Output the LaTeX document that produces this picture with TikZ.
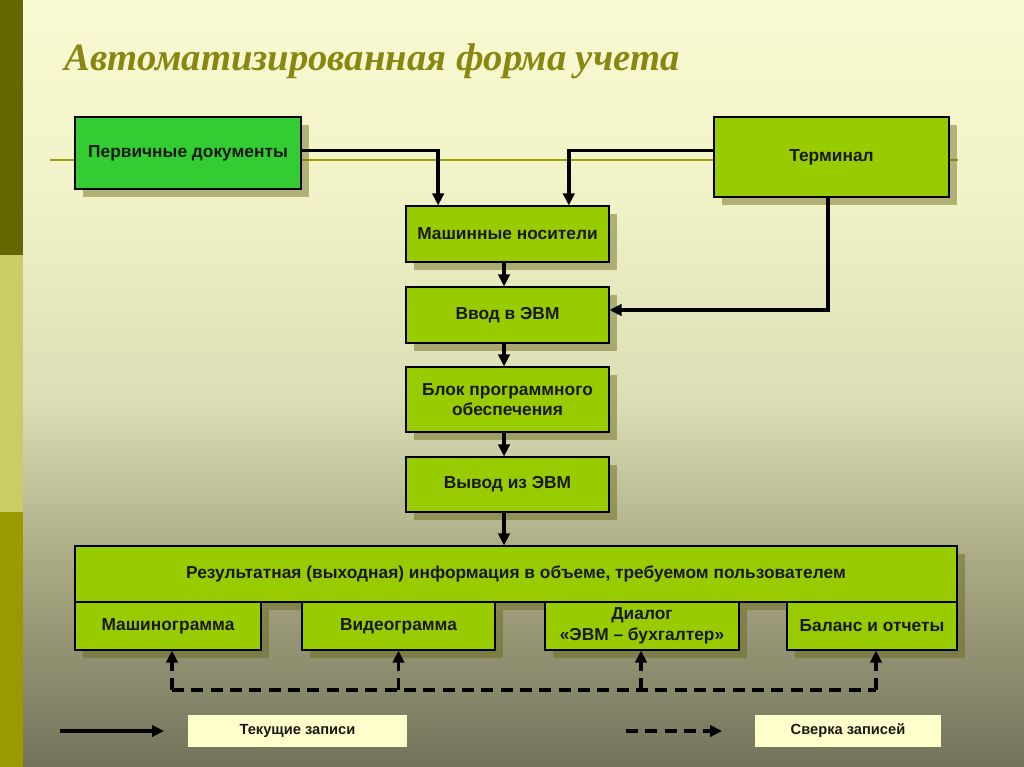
\documentclass[tikz,border=0pt]{standalone}
\usepackage{fontspec}
\setmainfont{Liberation Sans}
\newfontfamily\titlefont{Liberation Serif}
\usetikzlibrary{arrows.meta,shadows}

\definecolor{bartop}{RGB}{102,102,0}
\definecolor{barmid}{RGB}{204,204,102}
\definecolor{barbot}{RGB}{153,153,0}
\definecolor{bgtop}{RGB}{250,250,210}
\definecolor{bgup}{RGB}{242,242,200}
\definecolor{bgmid}{RGB}{222,222,182}
\definecolor{bglow}{RGB}{170,170,132}
\definecolor{bgbot}{RGB}{115,115,92}
\definecolor{titlecol}{RGB}{135,135,18}
\definecolor{rulecol}{RGB}{160,160,10}
\definecolor{docgreen}{RGB}{51,204,51}
\definecolor{boxgreen}{RGB}{153,204,0}
\definecolor{legfill}{RGB}{255,255,204}
\definecolor{shadowcol}{RGB}{100,100,20}
\definecolor{txt}{RGB}{25,25,20}

\pgfdeclareverticalshading{slidebg}{100bp}{color(0bp)=(bgbot); color(25bp)=(bgbot); color(38.5bp)=(bglow); color(49bp)=(bgmid); color(62.5bp)=(bgup); color(75bp)=(bgtop); color(100bp)=(bgtop)}

\begin{document}
\begin{tikzpicture}[x=0.75pt, y=-0.75pt,
    >={Triangle[length=9pt,width=8.5pt]},
    box/.style={draw=black, line width=0.8pt, fill=boxgreen, text=txt, align=center, inner sep=0pt,
        font=\bfseries\fontsize{13}{15.5}\selectfont,
        drop shadow={shadow xshift=6pt, shadow yshift=-6pt, fill=shadowcol, opacity=0.45}},
    legbox/.style={fill=legfill, text=txt, inner sep=0pt, minimum height=24pt,
        font=\bfseries\fontsize{11}{13}\selectfont},
    conn/.style={line width=2.6pt, ->},
    dashconn/.style={line width=2.6pt, dash pattern=on 9pt off 5.5pt}]
    \useasboundingbox (0,0) rectangle (1024,767);
    \shade[shading=slidebg] (0,0) rectangle (1024,767);
    \fill[bartop] (0,0) rectangle (23,255);
    \fill[barmid] (0,255) rectangle (23,512);
    \fill[barbot] (0,512) rectangle (23,767);
    \draw[rulecol, line width=1.5pt] (50,160) -- (958,160);

    \node[anchor=base west, text=titlecol, font=\titlefont\bfseries\itshape\fontsize{29}{34}\selectfont] (title) at (60,71) {Автоматизированная форма учета};

    \node[box, fill=docgreen, minimum width=169.5pt, minimum height=54pt] (prim) at (188,153) {Первичные документы};
    \node[box, minimum width=176.25pt, minimum height=60pt] (term) at (831.5,157) {Терминал};
    \node[box, minimum width=152.25pt, minimum height=42pt] (nos) at (507.5,234) {Машинные носители};
    \node[box, minimum width=152.25pt, minimum height=42pt] (vvod) at (507.5,315) {Ввод в ЭВМ};
    \node[box, minimum width=152.25pt, minimum height=48.75pt] (blok) at (507.5,399.5) {Блок программного\\обеспечения};
    \node[box, minimum width=152.25pt, minimum height=41.25pt] (vyvod) at (507.5,484.5) {Вывод из ЭВМ};
    \node[box, minimum width=661.5pt, minimum height=42pt] (res) at (516,574) {Результатная (выходная) информация в объеме, требуемом пользователем};
    \node[box, minimum width=139.5pt, minimum height=36pt] (mash) at (168,626) {Машинограмма};
    \node[box, minimum width=144.75pt, minimum height=36pt] (video) at (398.5,626) {Видеограмма};
    \node[box, minimum width=145.5pt, minimum height=36pt] (dialog) at (642,626) {Диалог\\«ЭВМ – бухгалтер»};
    \node[box, minimum width=127.5pt, minimum height=36pt] (balans) at (872,626) {Баланс и отчеты};

    \draw[conn] ([yshift=2pt]prim.east) -| ([xshift=-52pt]nos.north);
    \draw[conn] ([yshift=5pt]term.west) -| ([xshift=46pt]nos.north);
    \draw[conn] ([xshift=-2.6pt]term.south) |- ([yshift=3.75pt]vvod.east);
    \draw[conn] ([xshift=-2.6pt]nos.south) -- ([xshift=-2.6pt]vvod.north);
    \draw[conn] ([xshift=-2.6pt]vvod.south) -- ([xshift=-2.6pt]blok.north);
    \draw[conn] ([xshift=-2.6pt]blok.south) -- ([xshift=-2.6pt]vyvod.north);
    \draw[conn] ([xshift=-2.6pt]vyvod.south) -- ([xshift=-2.6pt]res.north -| vyvod.south);

    \coordinate (dl) at (0,690);
    \draw[dashconn] ([xshift=3pt]mash.south |- dl) -- ([xshift=3pt]balans.south |- dl);
    \foreach \n/\s in {mash/3pt,video/0pt,dialog/-0.75pt,balans/3pt}{
        \draw[dashconn, ->] ([xshift=\s]\n.south |- dl) -- ([xshift=\s]\n.south);
    }

    \coordinate (solidA) at (60,731);
    \coordinate (solidB) at (164,731);
    \coordinate (dashA) at (626,731);
    \coordinate (dashB) at (722,731);
    \draw[conn] (solidA) -- (solidB);
    \draw[dashconn, ->] (dashA) -- (dashB);
    \node[legbox, minimum width=164.25pt] (legcur) at (297.5,731) {Текущие записи};
    \node[legbox, minimum width=139.5pt] (legchk) at (848,731) {Сверка записей};
\end{tikzpicture}
\end{document}
